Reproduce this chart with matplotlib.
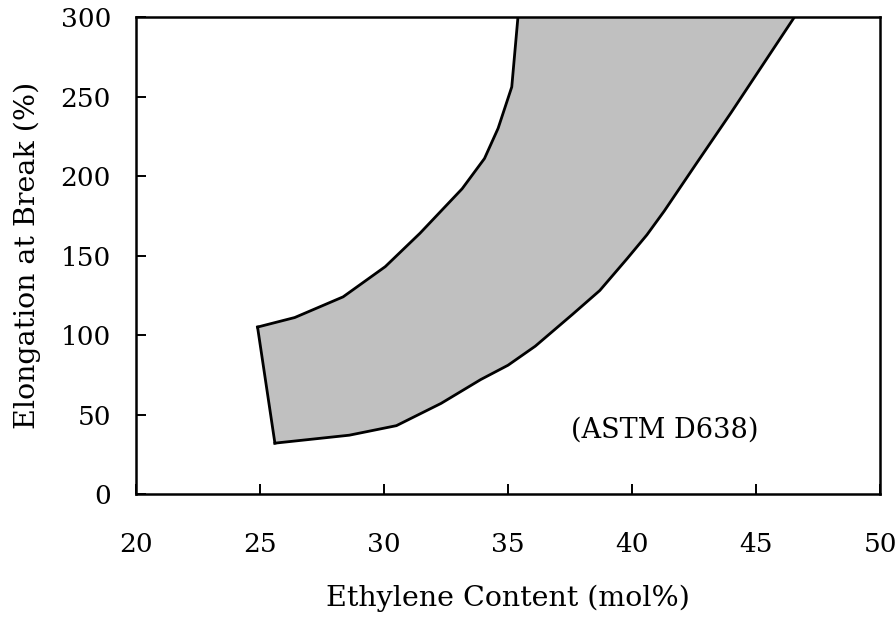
import numpy as np
import matplotlib
matplotlib.use("Agg")
import matplotlib.pyplot as plt

# upper/left boundary of the band (ethylene mol%, elongation %)
upper_x = [24.9, 26.4, 28.35, 30.05, 31.45, 33.15, 34.05, 34.6, 35.15, 35.4]
upper_y = [105, 111, 124, 143, 164, 192, 211, 230, 256, 300]
# lower/right boundary of the band
lower_x = [25.6, 28.6, 30.5, 32.3, 33.9, 35.0, 36.1, 37.6, 38.7, 39.8, 40.6, 41.3, 42.6, 44.0, 46.55]
lower_y = [32, 37, 43, 57, 72, 81, 93, 113, 128, 148, 163, 178, 208, 240, 300]

xticks = [20, 25, 30, 35, 40, 45, 50]
yticks = [0, 50, 100, 150, 200, 250, 300]

plt.rcParams["font.family"] = ["DejaVu Serif"]

fig = plt.figure(figsize=(8.96, 6.18), dpi=100)
ax = fig.add_axes([0.1518, 0.2006, 0.8304, 0.7719])

px = np.concatenate([upper_x, lower_x[::-1]])
py = np.concatenate([upper_y, lower_y[::-1]])
ax.fill(px, py, facecolor="#c0c0c0", edgecolor="none", zorder=1)
ax.plot(upper_x, upper_y, color="black", lw=2, zorder=2)
ax.plot(lower_x, lower_y, color="black", lw=2, zorder=2)
ax.plot([upper_x[0], lower_x[0]], [upper_y[0], lower_y[0]], color="black", lw=2, zorder=2)

ax.text(41.3, 40, "(ASTM D638)", ha="center", va="center", fontsize=19.5)

ax.set_xlim(20, 50)
ax.set_ylim(0, 300)
ax.set_xticks(xticks)
ax.set_yticks(yticks)
ax.tick_params(direction="in", length=7.5, width=1.4, labelsize=19,
               top=False, right=False)
ax.tick_params(axis="x", pad=27)
ax.tick_params(axis="y", pad=18)
for s in ax.spines.values():
    s.set_linewidth(1.8)
ax.set_xlabel("Ethylene Content (mol%)", fontsize=20.5, labelpad=20)
ax.set_ylabel("Elongation at Break (%)", fontsize=20.5, labelpad=14)

fig.savefig("out.png", dpi=100)
